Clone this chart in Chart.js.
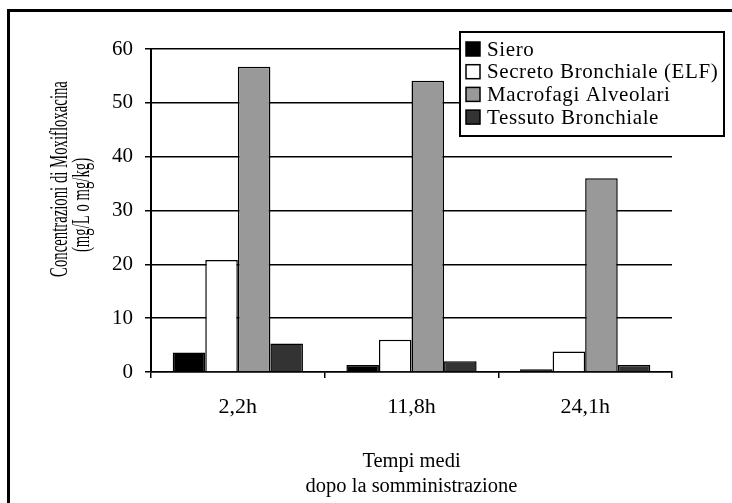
<!DOCTYPE html>
<html>
<head>
<meta charset="utf-8">
<script src="https://cdn.jsdelivr.net/npm/chart.js@4.4.1/dist/chart.umd.min.js"></script>
<style>
  html, body { margin: 0; padding: 0; background: #fff; }
  #wrap { position: relative; width: 732px; height: 503px; overflow: hidden; }
  #frame { position: absolute; left: 7px; top: 9px; width: 740px; height: 510px;
           border-top: 3px solid #000; border-left: 3px solid #000; pointer-events: none; }
</style>
</head>
<body>
<div id="wrap">
  <canvas id="c" width="732" height="503"></canvas>
  <div id="frame"></div>
</div>
<script>
const categories = ["2,2h", "11,8h", "24,1h"];
const seriesNames = ["Siero", "Secreto Bronchiale (ELF)", "Macrofagi Alveolari", "Tessuto Bronchiale"];
const siero = [3.6, 1.3, 0.5];
const secreto = [20.8, 6.0, 3.8];
const macrofagi = [56.7, 54.1, 36.0];
const tessuto = [5.3, 2.0, 1.3];
const seriesColors = ["#000000", "#ffffff", "#999999", "#333333"];
const yTicks = [0, 10, 20, 30, 40, 50, 60];
const yTitle = ["Concentrazioni di Moxifloxacina", "(mg/L o mg/kg)"];
const xTitle = ["Tempi medi", "dopo la somministrazione"];

const values = [siero, secreto, macrofagi, tessuto];
const serif = '"Liberation Serif", "Times New Roman", serif';

const datasets = seriesNames.map((n, i) => ({
  label: n,
  data: values[i],
  backgroundColor: seriesColors[i],
  borderColor: "#000",
  borderWidth: 1.5,
  categoryPercentage: 0.75,
  barPercentage: 1.0
}));

// y-axis title: two rotated lines, condensed along the text direction
const yTitlePlugin = {
  id: "yTitleLines",
  afterDraw(chart) {
    const ctx = chart.ctx;
    const pos = [{ x: 67, y: 179 }, { x: 89, y: 205 }];
    ctx.save();
    ctx.font = "25px " + serif;
    ctx.fillStyle = "#000";
    ctx.textAlign = "center";
    ctx.textBaseline = "alphabetic";
    yTitle.forEach((t, i) => {
      ctx.save();
      ctx.translate(pos[i].x, pos[i].y);
      ctx.rotate(-Math.PI / 2);
      ctx.scale(0.59, 1);
      ctx.fillText(t, 0, 0);
      ctx.restore();
    });
    ctx.restore();
  }
};

// boxed legend placed over the top-right of the plot, built from the datasets
const boxLegendPlugin = {
  id: "boxLegend",
  afterDraw(chart) {
    const ctx = chart.ctx;
    const bx = 460, by = 32, bw = 264, bh = 104;
    ctx.save();
    ctx.fillStyle = "#fff";
    ctx.fillRect(bx, by, bw, bh);
    ctx.strokeStyle = "#000";
    ctx.lineWidth = 2;
    ctx.strokeRect(bx, by, bw, bh);
    ctx.font = "21px " + serif;
    ctx.textBaseline = "middle";
    ctx.textAlign = "left";
    if ("letterSpacing" in ctx) ctx.letterSpacing = "0.6px";
    chart.data.datasets.forEach((ds, i) => {
      const cy = by + 17 + i * 22.7;
      ctx.fillStyle = ds.backgroundColor;
      ctx.fillRect(466, cy - 7, 14, 14);
      ctx.lineWidth = 1.5;
      ctx.strokeRect(466, cy - 7, 14, 14);
      ctx.fillStyle = "#000";
      ctx.fillText(ds.label, 487, cy + 1);
    });
    ctx.restore();
  }
};

new Chart(document.getElementById("c"), {
  type: "bar",
  data: { labels: categories, datasets },
  plugins: [yTitlePlugin, boxLegendPlugin],
  options: {
    responsive: false,
    animation: false,
    events: [],
    layout: { padding: { left: 0, top: 49, right: 60, bottom: 0 } },
    plugins: { legend: { display: false }, tooltip: { enabled: false } },
    scales: {
      x: {
        offset: true,
        afterFit: s => { s.height = 131; },
        grid: { offset: true, drawOnChartArea: false, drawTicks: true, tickLength: 6, color: "#000", lineWidth: 1.5 },
        border: { display: true, color: "#000", width: 1.5 },
        ticks: { color: "#000", font: { family: serif, size: 22 }, padding: 16 },
        title: { display: true, text: xTitle, color: "#000", font: { family: serif, size: 20.5, lineHeight: "25px" }, padding: { top: 0, bottom: 4 } }
      },
      y: {
        min: 0, max: 60,
        afterFit: s => { s.width = 151; },
        afterBuildTicks: s => { s.ticks = yTicks.map(v => ({ value: v })); },
        grid: { color: "#000", lineWidth: 1.5, tickLength: 6 },
        border: { display: true, color: "#000", width: 2 },
        ticks: { color: "#000", font: { family: serif, size: 21 }, padding: 12 },
        title: { display: false }
      }
    }
  }
});
</script>
</body>
</html>
